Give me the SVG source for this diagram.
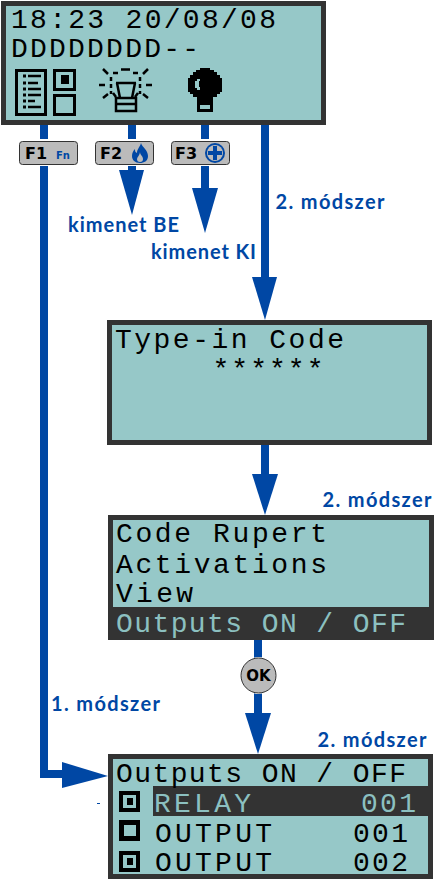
<svg xmlns="http://www.w3.org/2000/svg" width="436" height="879" viewBox="0 0 436 879">
<style>
.lcd{fill:#96c8c8;stroke:#333;stroke-width:5}
.t{font-family:"Liberation Mono","DejaVu Sans Mono",monospace;font-size:28px;fill:#000}
.i{fill:#96c8c8}
.b{font-family:Lato,"Open Sans",sans-serif;font-weight:700;font-size:20px;fill:#0047a4}
.k{fill:#bbb;stroke:#333;stroke-width:1}
.kw{fill:#fff}
.kt{font-family:"DejaVu Sans",sans-serif;font-weight:700;font-size:16px;fill:#000}
.w{fill:#0047a4}
.l{fill:none;stroke:#0047a4;stroke-width:8}
</style>
<rect width="436" height="879" fill="#fff"/>
<g id="connectors">
<path class="l" d="M44 124V774H70"/>
<path class="w" d="M62 762L108 776L62 788Z"/>
<path class="l" d="M132 124V172"/>
<path class="w" d="M119 170H144L132 215Z"/>
<path class="l" d="M205 124V190"/>
<path class="w" d="M192 188H218L205 233Z"/>
<path class="l" d="M265 124V280"/>
<path class="w" d="M252 277H277L265 320Z"/>
<path class="l" d="M265 444V478"/>
<path class="w" d="M252 474H278L265 515Z"/>
<path class="l" d="M258 639V715"/>
<path class="w" d="M245 713H271L258 754Z"/>
<rect class="w" x="97" y="803" width="3" height="1"/>
</g>
<g id="lcd-main">
<rect class="lcd" x="3.500" y="3.500" width="320" height="119"/>
<text class="t" x="11" y="28" textLength="265">18:23 20/08/08</text>
<text class="t" x="11" y="57" textLength="188">DDDDDDDD--</text>
<g id="icon-list" fill="none" stroke="#000">
<rect x="16.500" y="70.500" width="29" height="44" stroke-width="3"/>
<path d="M23 76h3M23 83h3M23 89h3M23 95h3M23 101h3M23 107h3" stroke-width="3"/>
<path d="M28 76h13M28 83h10M28 89h13M28 95h13M28 101h7M28 107h13" stroke-width="2.500"/>
<rect x="54.500" y="70.500" width="20" height="19" stroke-width="3"/>
<rect x="61" y="75" width="8" height="9" fill="#000" stroke="none"/>
<rect x="54.500" y="95.500" width="20" height="19" stroke-width="3"/>
</g>
<g id="icon-on" fill="none" stroke="#000" stroke-width="2.500">
<path d="M103 69l5 5M148 69l-5 5M99 85h6M146 85h6M103 98l5-4M148 98l-5-4"/>
<path d="M121 69.500h9M113 73h5M133 73h5M111 77v4M111 84v4M111 91v3M140 77v4M140 84v4M140 91v3M113 93l3 4M138 93l-3 4"/>
<path d="M116 83h20M117 83l3 15M135 83l-3 15M116 98h20V111h-20ZM116 104h20"/>
</g>
<g id="icon-off">
<path d="M200 68h10v2h4v2h3v3h3v3h2v14h-2v2h-3v3h-4v15h-16v-15h-4v-3h-3v-2h-2v-14h2v-3h3v-3h3v-2h4z" fill="#000"/>
<path class="i" d="M197 79h3v2h-1v6h1v3h-3v-2h-2v-7h2z"/>
<rect class="i" x="200" y="105" width="10" height="4"/>
</g>
</g>
<g id="key-f1"><rect class="kw" x="17" y="139" width="63" height="27"/><rect class="k" x="19.500" y="141.500" width="58" height="23" rx="3"/><text class="kt" x="25" y="159">F1</text><text x="56" y="159" font-family="DejaVu Sans,sans-serif" font-weight="700" font-size="10" fill="#0047a4">Fn</text></g>
<g id="key-f2"><rect class="kw" x="93" y="139" width="63" height="27"/><rect class="k" x="95.500" y="141.500" width="58" height="23" rx="3"/><text class="kt" x="100" y="159">F2</text><path class="w" d="M141 143c1 4 7 7 7 13c0 5-4 7-8 7c-5 0-8-3-8-7c0-3 1-5 3-7c0 2 0 3 2 4c0-4 3-6 4-10z"/><path d="M140 152c0 3 3 4 3 7c0 2-1 3-3 3c-2 0-3-1-3-3c0-2 3-4 3-7z" fill="#bbb"/></g>
<g id="key-f3"><rect class="kw" x="169" y="139" width="63" height="27"/><rect class="k" x="171.500" y="141.500" width="58" height="23" rx="3"/><text class="kt" x="175" y="159">F3</text><circle cx="215" cy="153" r="10" fill="#0047a4"/><circle cx="215" cy="153" r="8" fill="#bbb"/><path class="w" d="M213 146h4v5h5v4h-5v5h-4v-5h-5v-4h5z"/></g>
<text id="label-be" class="b" x="68" y="232" textLength="111">kimenet BE</text>
<text id="label-ki" class="b" x="151" y="259" textLength="105">kimenet KI</text>
<text id="label-m2a" class="b" x="275.500" y="209" textLength="109">2. módszer</text>
<g id="lcd-code">
<rect class="lcd" x="109.500" y="322.500" width="320" height="120"/>
<text class="t" x="115" y="348" textLength="229">Type-in Code</text>
<text class="t" x="212.500" y="378" textLength="111">******</text>
</g>
<text id="label-m2b" class="b" x="322.500" y="507" textLength="109">2. módszer</text>
<g id="lcd-menu">
<rect class="lcd" x="110.500" y="517.500" width="321" height="120"/>
<rect x="108" y="607" width="326" height="33" fill="#333"/>
<text class="t" x="116" y="542" textLength="211">Code Rupert</text>
<text class="t" x="116" y="573" textLength="211">Activations</text>
<text class="t" x="116" y="602" textLength="77">View</text>
<text class="t" x="116" y="632" textLength="290" style="fill:#8cc0c0">Outputs ON / OFF</text>
</g>
<g id="btn-ok"><circle cx="258.500" cy="675.500" r="18.500" fill="#fff"/><circle cx="258.500" cy="675.500" r="17.500" fill="#bbb" stroke="#333" stroke-width="1"/><text x="258.500" y="681" text-anchor="middle" font-family="DejaVu Sans,sans-serif" font-weight="700" font-size="15" fill="#000">OK</text></g>
<text id="label-m1" class="b" x="51" y="711" textLength="109">1. módszer</text>
<text id="label-m2c" class="b" x="317.500" y="747" textLength="109">2. módszer</text>
<g id="lcd-outputs">
<rect class="lcd" x="110.500" y="756.500" width="320" height="120"/>
<rect x="153" y="786" width="280" height="30" fill="#333"/>
<text class="t" x="116" y="782" textLength="290">Outputs ON / OFF</text>
<text class="t" x="154" y="812" textLength="97" style="fill:#8cc0c0">RELAY</text>
<text class="t" x="361" y="812" textLength="55" style="fill:#8cc0c0">001</text>
<text class="t" x="155" y="842" textLength="117">OUTPUT</text>
<text class="t" x="353" y="842" textLength="55">001</text>
<text class="t" x="155" y="871" textLength="117">OUTPUT</text>
<text class="t" x="353" y="871" textLength="55">002</text>
<g id="check-1"><rect x="119" y="791" width="21" height="21" fill="#000"/><rect x="123" y="795" width="13" height="13" class="i"/><rect x="127" y="798" width="6" height="7" fill="#000"/></g>
<g id="check-2"><rect x="119" y="820" width="21" height="21" fill="#000"/><rect x="124" y="825" width="12" height="11" class="i"/></g>
<g id="check-3"><rect x="119" y="851" width="21" height="21" fill="#000"/><rect x="123" y="855" width="13" height="13" class="i"/><rect x="127" y="858" width="6" height="7" fill="#000"/></g>
</g>
</svg>
